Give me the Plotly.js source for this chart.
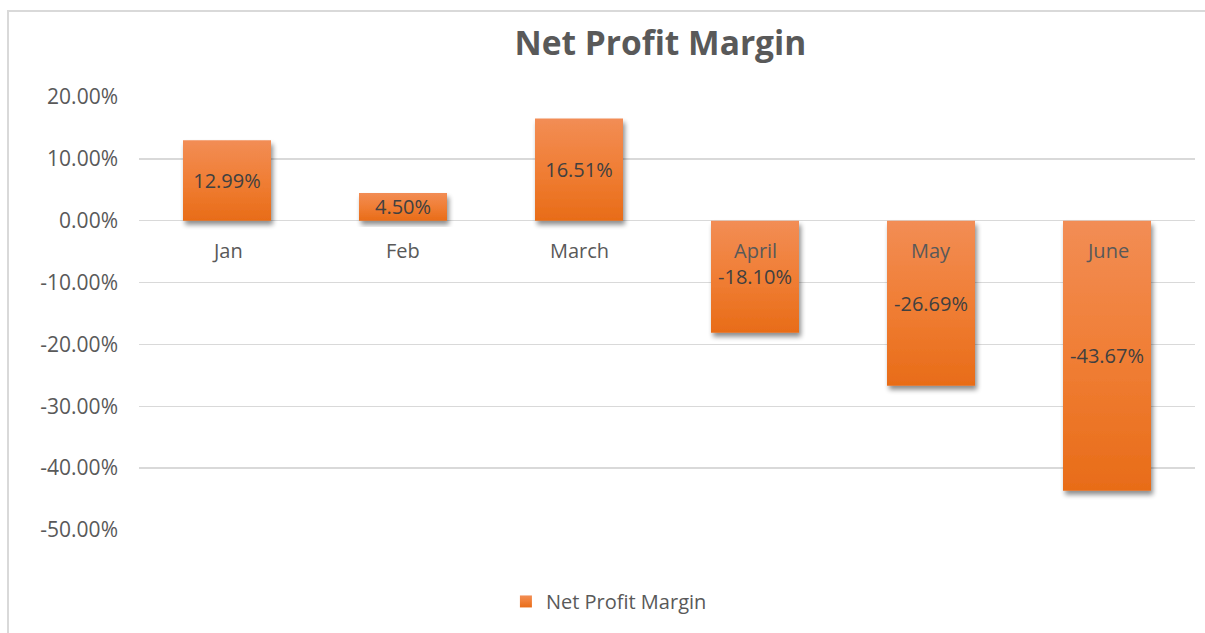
<!DOCTYPE html>
<html>
<head>
<meta charset="utf-8">
<script src="https://cdn.plot.ly/plotly-3.0.1.min.js"></script>
<style>
html,body{margin:0;padding:0;background:#fff;}
#frame{position:absolute;left:7px;top:10px;width:1205px;height:640px;border-left:2px solid #d9d9d9;border-top:2px solid #d9d9d9;box-sizing:border-box;pointer-events:none;z-index:5;}
#chart{position:absolute;left:0;top:0;width:1205px;height:633px;}
</style>
</head>
<body>
<div id="chart"></div>
<div id="frame"></div>
<script>
var months = ["Jan", "Feb", "March", "April", "May", "June"];
var margins = [0.1299, 0.0450, 0.1651, -0.1810, -0.2669, -0.4367];
var labels = ["12.99%", "4.50%", "16.51%", "-18.10%", "-26.69%", "-43.67%"];
var yTicks = [0.2, 0.1, 0, -0.1, -0.2, -0.3, -0.4, -0.5];
var yTickText = ["20.00%", "10.00%", "0.00%", "-10.00%", "-20.00%", "-30.00%", "-40.00%", "-50.00%"];
var seriesName = "Net Profit Margin";

var FONT = "'Open Sans', sans-serif";

var trace = {
  type: "bar",
  x: months,
  y: margins,
  name: seriesName,
  text: labels,
  textposition: "inside",
  insidetextanchor: "middle",
  constraintext: "none",
  textangle: 0,
  textfont: {family: FONT, size: 20, color: "#404040"},
  marker: {color: "#ED7D31", line: {width: 0}},
  width: 0.5,
  hoverinfo: "none",
  showlegend: true
};

var annotations = months.map(function (m) {
  return {
    x: m, y: 0, xref: "x", yref: "y",
    text: m, showarrow: false,
    yanchor: "top", yshift: -14,
    font: {family: FONT, size: 20, color: "#595959"}
  };
});

var layout = {
  width: 1205, height: 633,
  margin: {l: 139, r: 10, t: 97, b: 103, pad: 0, autoexpand: false},
  paper_bgcolor: "rgba(0,0,0,0)",
  plot_bgcolor: "rgba(0,0,0,0)",
  title: {
    text: "<b>Net Profit Margin</b>",
    font: {family: FONT, size: 33.5, color: "#595959"},
    x: 0.548, xanchor: "center", y: 0.932, yanchor: "middle"
  },
  xaxis: {
    type: "category",
    showticklabels: false, showgrid: false, zeroline: false, showline: false, ticks: ""
  },
  yaxis: {
    range: [-0.5, 0.2],
    tickvals: yTicks, ticktext: yTickText,
    tickfont: {family: FONT, size: 21, color: "#595959"},
    showgrid: true, gridcolor: "#d9d9d9", gridwidth: 1.5,
    zeroline: true, zerolinecolor: "#d9d9d9", zerolinewidth: 1.5,
    showline: false, ticks: "", ticklabelstandoff: 20, automargin: false
  },
  showlegend: true,
  legend: {
    orientation: "h", x: 0.445, xanchor: "center",
    y: -0.165, yanchor: "middle",
    font: {family: FONT, size: 20, color: "#595959"},
    itemwidth: 30
  },
  annotations: annotations,
  bargap: 0.5
};

Plotly.newPlot("chart", [trace], layout, {staticPlot: true, displayModeBar: false}).then(function (gd) {
  var svg = gd.querySelector("svg.main-svg");
  var ns = "http://www.w3.org/2000/svg";
  var defs = svg.querySelector("defs") || svg.insertBefore(document.createElementNS(ns, "defs"), svg.firstChild);
  var grad = document.createElementNS(ns, "linearGradient");
  grad.setAttribute("id", "barGrad");
  grad.setAttribute("x1", "0"); grad.setAttribute("y1", "0");
  grad.setAttribute("x2", "0"); grad.setAttribute("y2", "1");
  [["0", "#F28D55"], ["0.5", "#F07E35"], ["1", "#E86C18"]].forEach(function (s) {
    var st = document.createElementNS(ns, "stop");
    st.setAttribute("offset", s[0]); st.setAttribute("stop-color", s[1]);
    grad.appendChild(st);
  });
  defs.appendChild(grad);
  var filt = document.createElementNS(ns, "filter");
  filt.setAttribute("id", "barShadow");
  filt.setAttribute("x", "-20%"); filt.setAttribute("y", "-20%");
  filt.setAttribute("width", "140%"); filt.setAttribute("height", "140%");
  filt.innerHTML = '<feGaussianBlur in="SourceAlpha" stdDeviation="2.5"/>' +
    '<feOffset dx="2" dy="4" result="ob"/>' +
    '<feComponentTransfer><feFuncA type="linear" slope="0.45"/></feComponentTransfer>' +
    '<feMerge><feMergeNode/><feMergeNode in="SourceGraphic"/></feMerge>';
  defs.appendChild(filt);
  gd.querySelectorAll(".barlayer .point path").forEach(function (p) {
    p.style.fill = "url(#barGrad)";
    p.setAttribute("filter", "url(#barShadow)");
  });
  gd.querySelectorAll(".legend .legendpoints path").forEach(function (p) {
    p.style.fill = "url(#barGrad)";
  });
});
</script>
</body>
</html>
